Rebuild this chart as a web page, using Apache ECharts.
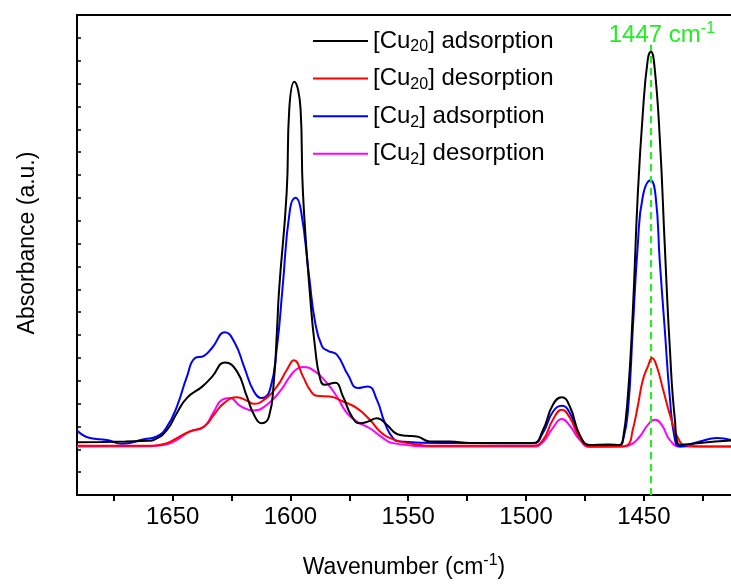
<!DOCTYPE html>
<html>
<head>
<meta charset="utf-8">
<script src="https://cdn.jsdelivr.net/npm/echarts@6/dist/echarts.min.js"></script>
<style>
html,body{margin:0;padding:0;background:#fff;}
#chart{width:731px;height:586px;}
</style>
</head>
<body>
<div id="chart"></div>
<script>
// ---- data (wavenumber cm-1, absorbance a.u.) ----
const seriesNames = ['[Cu20] adsorption', '[Cu20] desorption', '[Cu2] adsorption', '[Cu2] desorption'];
const seriesColors = ['#000000', '#ff0000', '#0000ff', '#ff00ff'];

const cu20Adsorption = [
  [1690.6,2.31],[1680,2.32],[1670,2.34],[1660,2.37],[1657.9,2.41],[1652.4,2.85],[1648.2,3.59],[1643.9,4.25],
  [1637.6,4.73],[1633.3,5.17],[1627.8,5.80],[1622.7,5.41],[1618.5,4.31],[1615.1,3.43],[1612.1,3.14],[1609.1,3.43],
  [1607.0,5.04],[1605.7,7.23],[1604.8,9.0],[1601.6,13.24],[1600.5,16.88],[1598.4,18.08],[1595.7,16.88],[1594.7,13.24],
  [1591.5,8.5],[1589.6,6.50],[1587.5,5.13],[1585.4,4.82],[1581.1,4.91],[1577.7,4.31],[1573.9,3.43],[1570.5,3.14],
  [1567.1,3.21],[1563.3,3.36],[1559.1,3.07],[1554.8,2.67],[1550.6,2.59],[1546.3,2.56],[1540.8,2.34],[1532.3,2.34],
  [1523.8,2.27],[1510,2.28],[1497.1,2.27],[1492.8,2.85],[1488.6,3.95],[1484.8,4.28],[1481.4,3.87],[1477.2,2.63],
  [1472.9,2.19],[1465,2.21],[1460.2,2.19],[1458.9,2.41],[1456.8,4.31],[1454.7,7.98],[1452.6,13.08],[1450.4,16.75],
  [1448.3,19.07],[1447.0,19.39],[1445.5,18.78],[1443.2,15.56],[1441.1,10.89],[1439.0,6.50],[1436.8,3.29],[1434.7,2.19],
  [1426.3,2.28],[1413,2.38]
];
const cu20Desorption = [
  [1690.6,2.15],[1670,2.15],[1657.9,2.16],[1652.4,2.27],[1648.2,2.49],[1642.7,2.78],[1636.7,2.99],[1632.5,3.51],
  [1628.2,4.02],[1622.7,4.28],[1618.5,4.13],[1615.5,3.99],[1611.3,4.16],[1605.7,4.75],[1601.5,5.48],[1598.5,5.89],
  [1594.7,5.19],[1591.7,4.60],[1588.8,4.34],[1583.3,4.31],[1577.7,4.09],[1571.8,3.80],[1566.3,3.29],[1562.0,2.78],
  [1557.8,2.49],[1550.6,2.27],[1536.6,2.15],[1497,2.15],[1492.8,2.41],[1488.6,3.29],[1484.8,3.73],[1481.4,3.38],
  [1477.2,2.50],[1472.9,2.13],[1460,2.12],[1456.8,2.19],[1454.7,2.85],[1452.6,3.87],[1450.4,5.04],[1448.3,5.62],
  [1446.5,5.99],[1444.5,5.62],[1441.8,4.60],[1438.3,3.29],[1435.5,2.49],[1432.6,2.19],[1425,2.12],[1413,2.12]
];
const cu2Adsorption = [
  [1690.6,2.82],[1685.1,2.49],[1677.9,2.41],[1671.5,2.24],[1662.2,2.44],[1656.7,2.56],[1652.4,2.99],[1648.2,3.87],
  [1643.9,5.19],[1640.5,5.99],[1636.7,6.09],[1633.3,6.43],[1627.8,7.12],[1623.6,6.65],[1619.7,5.62],[1615.5,4.53],
  [1612.1,4.24],[1608.7,4.60],[1605.7,6.50],[1603.4,9.0],[1600.2,12.49],[1597.8,13.01],
  [1595.6,12.49],[1592.0,9.5],[1589.6,7.6],[1586.6,6.50],[1584.1,6.31],[1580.3,6.14],
  [1575.6,5.26],[1571.4,4.68],[1567.1,4.75],[1563.3,4.16],[1559.9,3.14],[1556.5,2.49],[1553.5,2.34],[1536.6,2.27],
  [1523.8,2.27],[1497,2.26],[1492.8,2.72],[1488.6,3.64],[1484.8,3.90],[1481.4,3.59],[1477.2,2.54],[1472.9,2.15],
  [1460.2,2.19],[1458.9,2.37],[1456.8,3.59],[1454.7,7.23],[1452.6,10.89],[1450.4,13.08],[1447.1,13.77],[1445.0,13.08],
  [1443.2,10.17],[1441.1,7.23],[1439.0,4.31],[1436.8,2.41],[1434.7,2.12],[1426.3,2.34],[1419.0,2.49],[1413,2.41]
];
const cu2Desorption = [
  [1690.6,2.12],[1660,2.13],[1657.9,2.15],[1652.4,2.22],[1648.2,2.41],[1642.7,2.78],[1636.7,2.99],[1632.5,3.65],
  [1629.1,4.16],[1625.7,4.24],[1621.4,3.90],[1615.5,3.70],[1610.0,3.95],[1604.5,4.53],[1600.2,5.19],[1597.3,5.51],
  [1594.7,5.60],[1589.6,5.41],[1584.5,4.90],[1580.3,4.31],[1576.0,3.58],[1571.8,3.21],[1566.3,2.92],[1562.0,2.59],
  [1556.5,2.27],[1536.6,2.12],[1497,2.12],[1492.8,2.32],[1488.6,2.94],[1484.8,3.32],[1481.4,3.03],[1477.2,2.41],
  [1472.9,2.10],[1460,2.12],[1455.9,2.19],[1451.7,2.56],[1448.3,3.07],[1445.3,3.29],[1442.4,3.07],[1439.0,2.41],
  [1434.7,2.12],[1413,2.12]
];
const seriesData = [cu20Adsorption, cu20Desorption, cu2Adsorption, cu2Desorption];

const xLabelValues = [1450, 1500, 1550, 1600, 1650];
const xTickValues = [1425, 1450, 1475, 1500, 1525, 1550, 1575, 1600, 1625, 1650, 1675];
const xRange = [1413, 1690.6];
const yRange = [0, 21];
const markerWavenumber = 1447;
const markerTop = 19.7;

// ---- chart ----
const FONT = 'Liberation Sans, Arial, sans-serif';
const chart = echarts.init(document.getElementById('chart'), null, {renderer: 'canvas'});

function legendLabel(name) {
  const m = name.match(/^\[Cu(\d+)\](.*)$/);
  return '{a|[Cu}{s|' + m[1] + '}{a|]' + m[2] + '}';
}

const series = seriesNames.map((name, i) => ({
  name: name,
  type: 'line',
  data: seriesData[i],
  xAxisIndex: 0,
  yAxisIndex: 0,
  showSymbol: false,
  symbol: 'none',
  smooth: 0.5,
  lineStyle: {color: seriesColors[i], width: 2},
  itemStyle: {color: seriesColors[i]},
  z: 3 + (3 - i)
}));

series.push({
  name: 'marker',
  type: 'line',
  data: [],
  silent: true,
  markLine: {
    silent: true,
    symbol: ['none', 'none'],
    lineStyle: {color: '#22ee22', type: [7, 5], width: 2},
    label: {
      show: true,
      position: 'end',
      distance: -6,
      formatter: '{a|' + markerWavenumber + ' cm}{p|-1}',
      padding: [0, 0, 0, 22],
      rich: {
        a: {fontSize: 24, fontFamily: FONT, color: '#22ee22'},
        p: {fontSize: 16, fontFamily: FONT, color: '#22ee22', padding: [0, 0, 14, 0]}
      }
    },
    data: [[{coord: [markerWavenumber, yRange[0]]}, {coord: [markerWavenumber, markerTop]}]]
  }
});

chart.setOption({
  animation: false,
  backgroundColor: '#ffffff',
  grid: {left: 77, right: 0, top: 15, bottom: 91},
  legend: {
    data: seriesNames,
    orient: 'vertical',
    left: 308,
    top: 22,
    itemWidth: 55,
    itemHeight: 2,
    icon: 'rect',
    itemGap: 9.6,
    formatter: legendLabel,
    textStyle: {
      fontSize: 24,
      fontFamily: FONT,
      color: '#000',
      rich: {
        a: {fontSize: 24, fontFamily: FONT, color: '#000', lineHeight: 28},
        s: {fontSize: 16, fontFamily: FONT, color: '#000', lineHeight: 28, padding: [12, 0, 0, 0]}
      }
    }
  },
  xAxis: [{
    type: 'value',
    inverse: true,
    min: xRange[0],
    max: xRange[1],
    position: 'bottom',
    axisLine: {show: true, onZero: false, lineStyle: {color: '#000', width: 2}},
    axisTick: {show: true, inside: false, length: 6, customValues: xTickValues, lineStyle: {color: '#000', width: 2}},
    axisLabel: {show: true, customValues: xLabelValues, fontSize: 24, fontFamily: FONT, color: '#000', margin: 10,
      formatter: function (v) { return String(v); }},
    splitLine: {show: false},
    name: '{a|Wavenumber (cm}{p|-1}{a|)}',
    nameLocation: 'middle',
    nameGap: 58,
    nameTextStyle: {
      fontSize: 23, fontFamily: FONT, color: '#000',
      rich: {
        a: {fontSize: 23, fontFamily: FONT, color: '#000'},
        p: {fontSize: 16, fontFamily: FONT, color: '#000', padding: [0, 0, 14, 0]}
      }
    }
  }, {
    type: 'value',
    inverse: true,
    min: xRange[0],
    max: xRange[1],
    position: 'top',
    axisLine: {show: true, onZero: false, lineStyle: {color: '#000', width: 2}},
    axisTick: {show: false},
    axisLabel: {show: false},
    splitLine: {show: false}
  }],
  yAxis: {
    type: 'value',
    min: yRange[0],
    max: yRange[1],
    interval: 1,
    axisLine: {show: true, onZero: false, lineStyle: {color: '#000', width: 2}},
    axisTick: {show: true, inside: true, length: 4, lineStyle: {color: '#000', width: 1.5}},
    axisLabel: {show: false},
    splitLine: {show: false},
    name: 'Absorbance (a.u.)',
    nameLocation: 'middle',
    nameRotate: 90,
    nameGap: 38,
    nameTextStyle: {fontSize: 23, fontFamily: FONT, color: '#000', padding: [0, 0, 0, 24]}
  },
  series: series
});
</script>
</body>
</html>
